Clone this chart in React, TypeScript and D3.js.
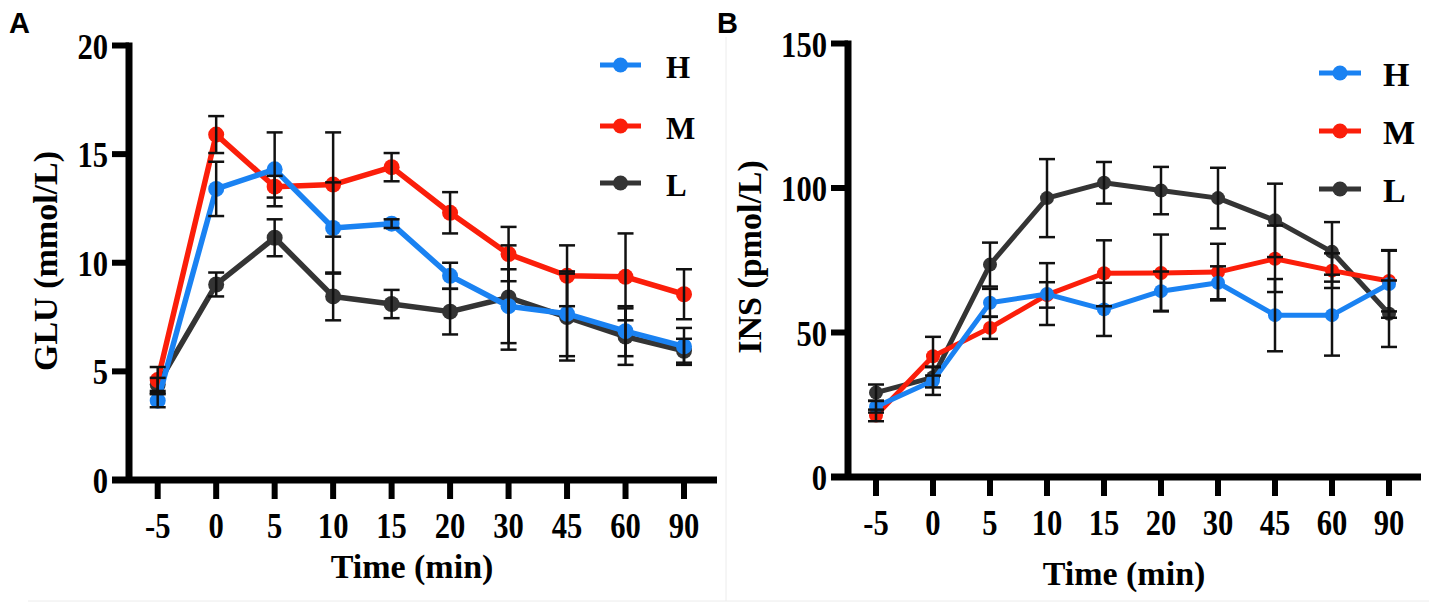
import React from 'react';
import * as d3 from 'd3';

const TIMES = ['-5', '0', '5', '10', '15', '20', '30', '45', '60', '90'];
const GROUPS = ['H', 'M', 'L'];

const GLU_TICKS = [0, 5, 10, 15, 20];
const GLU_H = [3.65, 13.4, 14.3, 11.6, 11.8, 9.4, 8.0, 7.65, 6.85, 6.15];
const GLU_H_SD = [0.3, 1.25, 1.7, 2.1, 0.2, 0.6, 1.7, 1.95, 1.15, 0.85];
const GLU_M = [4.6, 15.9, 13.5, 13.6, 14.4, 12.3, 10.4, 9.4, 9.35, 8.55];
const GLU_M_SD = [0.6, 0.85, 0.5, 2.4, 0.65, 0.95, 1.25, 1.4, 2.0, 1.15];
const GLU_L = [4.4, 9.0, 11.15, 8.45, 8.1, 7.75, 8.4, 7.5, 6.6, 5.95];
const GLU_L_SD = [0.3, 0.55, 0.85, 1.1, 0.65, 1.05, 2.4, 2.0, 1.3, 0.55];

const INS_TICKS = [0, 50, 100, 150];
const INS_H = [24.3, 33.3, 60.3, 63.3, 58.0, 64.3, 67.2, 56.0, 56.0, 66.8];
const INS_H_SD = [2.0, 4.9, 4.8, 10.7, 9.2, 6.8, 5.7, 12.5, 14.0, 11.7];
const INS_M = [21.3, 41.8, 51.6, 63.0, 70.5, 70.6, 70.9, 75.5, 71.4, 67.8];
const INS_M_SD = [2.0, 6.7, 3.8, 4.4, 11.4, 13.3, 9.8, 11.5, 6.0, 10.5];
const INS_L = [29.2, 34.5, 73.5, 96.5, 101.8, 99.1, 96.5, 88.8, 77.9, 56.5];
const INS_L_SD = [2.8, 3.5, 7.6, 13.5, 7.2, 8.2, 10.5, 12.7, 10.3, 11.5];

const COLORS: Record<string, string> = { H: '#1a82f2', M: '#fb1e0a', L: '#343434' };
const SERIF = '"Liberation Serif", "Times New Roman", serif';
const SANS = '"Liberation Sans", Arial, sans-serif';

interface Series {
  name: string;
  mean: number[];
  sd: number[];
}

interface PanelProps {
  letter: string;
  letterX: number;
  axisX: number;
  axisY: number;
  topY: number;
  xFirst: number;
  xLast: number;
  xEnd: number;
  yMax: number;
  ticks: number[];
  yTitle: string;
  yTitleX: number;
  yTitleY: number;
  xTitleX: number;
  xTitleY: number;
  legendLine: [number, number];
  legendTextX: number;
  legendRows: number[];
  legendSize: number;
  lineWidth: number;
  radius: number;
  series: Series[];
}

const Panel: React.FC<PanelProps> = (p) => {
  const x = d3.scalePoint<string>().domain(TIMES).range([p.xFirst, p.xLast]);
  const y = d3.scaleLinear().domain([0, p.yMax]).range([p.axisY, p.topY]);
  const line = d3
    .line<number>()
    .x((_, i) => x(TIMES[i])!)
    .y((d) => y(d));

  // drawing order: L under M under H
  const drawOrder = [...p.series].reverse();

  return (
    <g>
      <text x={p.letterX} y={33} fontFamily={SANS} fontWeight="bold" fontSize={29}>
        {p.letter}
      </text>

      {/* axes */}
      <line x1={p.axisX} x2={p.axisX} y1={y(p.yMax) - 3} y2={p.axisY} stroke="#000" strokeWidth={7} />
      <line x1={p.axisX - 17} x2={p.xEnd} y1={p.axisY} y2={p.axisY} stroke="#000" strokeWidth={7} />
      {p.ticks.map((t) => (
        <g key={t}>
          <line x1={p.axisX - 17} x2={p.axisX} y1={y(t)} y2={y(t)} stroke="#000" strokeWidth={6} />
          <text
            transform={`translate(${p.axisX - 21},${y(t) + 13}) scale(0.85,1)`}
            textAnchor="end"
            fontFamily={SERIF}
            fontWeight="bold"
            fontSize={36}
          >
            {t}
          </text>
        </g>
      ))}
      {TIMES.map((t) => (
        <g key={t}>
          <line x1={x(t)} x2={x(t)} y1={p.axisY} y2={p.axisY + 19} stroke="#000" strokeWidth={6} />
          <text
            transform={`translate(${x(t)},${p.axisY + 58}) scale(0.85,1)`}
            textAnchor="middle"
            fontFamily={SERIF}
            fontWeight="bold"
            fontSize={36}
          >
            {t}
          </text>
        </g>
      ))}

      <text x={p.xTitleX} y={p.xTitleY} textAnchor="middle" fontFamily={SERIF} fontWeight="bold" fontSize={34}>
        Time (min)
      </text>
      <text
        transform={`translate(${p.yTitleX},${p.yTitleY}) rotate(-90)`}
        textAnchor="middle"
        fontFamily={SERIF}
        fontWeight="bold"
        fontSize={34}
      >
        {p.yTitle}
      </text>

      {/* lines and symbols */}
      {drawOrder.map((s) => (
        <g key={s.name}>
          <path d={line(s.mean)!} fill="none" stroke={COLORS[s.name]} strokeWidth={p.lineWidth} strokeLinejoin="round" />
          {s.mean.map((v, i) => (
            <circle key={i} cx={x(TIMES[i])} cy={y(v)} r={p.radius} fill={COLORS[s.name]} />
          ))}
        </g>
      ))}

      {/* error bars */}
      {drawOrder.map((s) => (
        <g key={s.name + '-err'} stroke="#111" strokeWidth={2.5}>
          {s.mean.map((v, i) => {
            const cx = x(TIMES[i])!;
            const hi = y(v + s.sd[i]);
            const lo = y(v - s.sd[i]);
            return (
              <g key={i}>
                <line x1={cx} x2={cx} y1={hi} y2={lo} />
                <line x1={cx - 8} x2={cx + 8} y1={hi} y2={hi} />
                <line x1={cx - 8} x2={cx + 8} y1={lo} y2={lo} />
              </g>
            );
          })}
        </g>
      ))}

      {/* legend */}
      {GROUPS.map((g, i) => {
        const ry = p.legendRows[i];
        const [l0, l1] = p.legendLine;
        return (
          <g key={g}>
            <line x1={l0} x2={l1} y1={ry} y2={ry} stroke={COLORS[g]} strokeWidth={5} />
            <circle cx={(l0 + l1) / 2} cy={ry} r={7.5} fill={COLORS[g]} />
            <text x={p.legendTextX} y={ry + 13} fontFamily={SERIF} fontWeight="bold" fontSize={p.legendSize}>
              {g}
            </text>
          </g>
        );
      })}
    </g>
  );
};

export default function App() {
  const glu: Series[] = [
    { name: 'H', mean: GLU_H, sd: GLU_H_SD },
    { name: 'M', mean: GLU_M, sd: GLU_M_SD },
    { name: 'L', mean: GLU_L, sd: GLU_L_SD },
  ];
  const ins: Series[] = [
    { name: 'H', mean: INS_H, sd: INS_H_SD },
    { name: 'M', mean: INS_M, sd: INS_M_SD },
    { name: 'L', mean: INS_L, sd: INS_L_SD },
  ];

  return (
    <svg
      width={1429}
      height={608}
      style={{ position: 'absolute', left: 0, top: 0, background: '#fff' }}
    >
      <line x1={726} x2={726} y1={37} y2={601} stroke="#ececec" strokeWidth={1} />
      <line x1={28} x2={1429} y1={601} y2={601} stroke="#ececec" strokeWidth={1} />

      <Panel
        letter="A"
        letterX={9}
        axisX={129}
        axisY={480}
        topY={45.5}
        xFirst={157.7}
        xLast={684}
        xEnd={717}
        yMax={20}
        ticks={GLU_TICKS}
        yTitle="GLU (mmol/L)"
        yTitleX={57}
        yTitleY={261}
        xTitleX={412}
        xTitleY={578}
        legendLine={[600, 641]}
        legendTextX={666}
        legendRows={[65, 126, 183]}
        legendSize={31}
        lineWidth={5.5}
        radius={8}
        series={glu}
      />
      <Panel
        letter="B"
        letterX={717}
        axisX={848}
        axisY={477}
        topY={43.5}
        xFirst={876}
        xLast={1389}
        xEnd={1421}
        yMax={150}
        ticks={INS_TICKS}
        yTitle="INS (pmol/L)"
        yTitleX={761}
        yTitleY={257}
        xTitleX={1124}
        xTitleY={585}
        legendLine={[1319, 1361]}
        legendTextX={1383}
        legendRows={[73, 131, 189]}
        legendSize={34}
        lineWidth={5}
        radius={7}
        series={ins}
      />
    </svg>
  );
}
